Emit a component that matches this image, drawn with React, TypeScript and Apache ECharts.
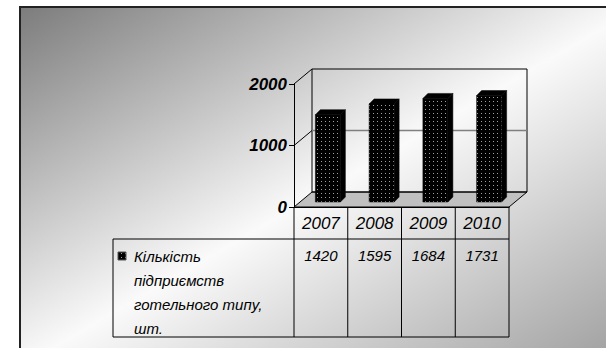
import React, { useEffect, useRef } from 'react';
import * as echarts from 'echarts';

// ---- data ----
const YEARS = ['2007', '2008', '2009', '2010'];
const COUNTS = [1420, 1595, 1684, 1731];
const Y_MIN = 0;
const Y_MAX = 2000;
const Y_STEP = 1000;
const SERIES_LABEL_LINES = ['Кількість', 'підприємств', 'готельного типу,', 'шт.'];

// ---- layout constants ----
const FONT = '"Liberation Sans", Arial, sans-serif';
const GRID = { left: 294, top: 84, width: 215, height: 123 };
const DEPTH_X = 18;
const DEPTH_Y = -15;
const BAR_DX = 7;
const BAR_DY = -5;
const BAR_W = 25;
const BAR_D = 5;
const TABLE_LEFT = 113;
const HEADER_H = 32;
const TABLE_BOTTOM = 337;

function makeDotPattern(): any {
  const c = document.createElement('canvas');
  c.width = 4;
  c.height = 4;
  const ctx = c.getContext('2d')!;
  ctx.fillStyle = '#000';
  ctx.fillRect(0, 0, 4, 4);
  ctx.fillStyle = '#a0a0a0';
  ctx.fillRect(1, 1, 1, 1);
  return { image: c, repeat: 'repeat' };
}

export default function App() {
  const ref = useRef<HTMLDivElement>(null);
  useEffect(() => {
    if (!ref.current) return;
    const chart = echarts.init(ref.current, undefined, { renderer: 'svg' });
    const dots = makeDotPattern();

    const frameRender = (params: any, api: any) => {
      const cs = params.coordSys;
      const gx = cs.x, gy = cs.y, gw = cs.width, gh = cs.height;
      const fy = gy + gh;
      const ch: any[] = [];
      // floor
      ch.push({
        type: 'polygon',
        shape: { points: [[gx, fy], [gx + gw, fy], [gx + gw + DEPTH_X, fy + DEPTH_Y], [gx + DEPTH_X, fy + DEPTH_Y]] },
        style: { fill: '#c0c0c0', stroke: '#000', lineWidth: 1 },
      });
      // back wall
      ch.push({
        type: 'rect',
        shape: { x: gx + DEPTH_X, y: gy + DEPTH_Y, width: gw, height: gh },
        style: { fill: 'none', stroke: '#000', lineWidth: 1 },
      });
      // gridlines on side and back wall
      for (let t = Y_MIN + Y_STEP; t <= Y_MAX; t += Y_STEP) {
        const y = api.coord([0, t])[1];
        ch.push({
          type: 'line',
          shape: { x1: gx, y1: y, x2: gx + DEPTH_X, y2: y + DEPTH_Y },
          style: { stroke: '#000', lineWidth: 1 },
        });
        if (t < Y_MAX) {
          ch.push({
            type: 'line',
            shape: { x1: gx + DEPTH_X, y1: y + DEPTH_Y, x2: gx + DEPTH_X + gw, y2: y + DEPTH_Y },
            style: { stroke: '#808080', lineWidth: 1.5 },
          });
        }
      }
      // data table
      const hb = fy + HEADER_H;
      const n = YEARS.length;
      for (let k = 0; k <= n; k++) {
        const x = gx + (k * gw) / n;
        ch.push({ type: 'line', shape: { x1: x, y1: fy, x2: x, y2: TABLE_BOTTOM }, style: { stroke: '#000', lineWidth: 1 } });
      }
      ch.push({ type: 'line', shape: { x1: TABLE_LEFT, y1: hb, x2: gx + gw, y2: hb }, style: { stroke: '#000', lineWidth: 1 } });
      ch.push({ type: 'line', shape: { x1: TABLE_LEFT, y1: TABLE_BOTTOM, x2: gx + gw, y2: TABLE_BOTTOM }, style: { stroke: '#000', lineWidth: 1 } });
      ch.push({ type: 'line', shape: { x1: TABLE_LEFT, y1: hb, x2: TABLE_LEFT, y2: TABLE_BOTTOM }, style: { stroke: '#000', lineWidth: 1 } });
      // legend key
      ch.push({
        type: 'rect',
        shape: { x: TABLE_LEFT + 5, y: hb + 13, width: 8, height: 8 },
        style: { fill: dots, stroke: '#555', lineWidth: 1 },
      });
      ch.push({
        type: 'text',
        x: TABLE_LEFT + 21,
        y: hb + 5,
        style: {
          text: SERIES_LABEL_LINES.join('\n'),
          fill: '#000',
          font: 'italic 15px ' + FONT,
          lineHeight: 24,
          align: 'left',
          verticalAlign: 'top',
        },
      });
      return { type: 'group', children: ch };
    };

    const barRender = (params: any, api: any) => {
      const i = api.value(0);
      const v = api.value(1);
      const b = api.coord([i, Y_MIN]);
      const t = api.coord([i, v]);
      const cx = b[0] + BAR_DX;
      const x0 = cx - BAR_W / 2;
      const x1 = cx + BAR_W / 2;
      const yb = b[1] + BAR_DY;
      const yt = t[1] + BAR_DY;
      return {
        type: 'group',
        children: [
          {
            type: 'polygon',
            shape: { points: [[x1, yt], [x1 + BAR_D, yt - BAR_D], [x1 + BAR_D, yb - BAR_D], [x1, yb]] },
            style: { fill: '#000', stroke: '#000', lineWidth: 0.5 },
          },
          {
            type: 'polygon',
            shape: { points: [[x0, yt], [x0 + BAR_D, yt - BAR_D], [x1 + BAR_D, yt - BAR_D], [x1, yt]] },
            style: { fill: '#000', stroke: '#000', lineWidth: 0.5 },
          },
          {
            type: 'rect',
            shape: { x: x0, y: yt, width: BAR_W, height: yb - yt },
            style: { fill: dots, stroke: '#000', lineWidth: 0.5 },
          },
        ],
      };
    };

    const valueRender = (params: any, api: any) => {
      const i = api.value(0);
      const b = api.coord([i, Y_MIN]);
      return {
        type: 'text',
        x: b[0],
        y: b[1] + HEADER_H + 16,
        style: {
          text: String(COUNTS[params.dataIndex]),
          fill: '#000',
          font: 'italic 15px ' + FONT,
          align: 'center',
          verticalAlign: 'middle',
        },
      };
    };

    chart.setOption({
      animation: false,
      graphic: [
        {
          type: 'rect',
          z: -10,
          shape: { x: 20, y: 7, width: 620, height: 360 },
          style: {
            fill: new echarts.graphic.LinearGradient(0, 0, 1, 1, [
              { offset: 0, color: '#7c7c7c' },
              { offset: 0.5, color: '#fafafa' },
              { offset: 1, color: '#9a9a9a' },
            ]),
            stroke: '#222',
            lineWidth: 2,
          },
        },
      ],
      grid: { left: GRID.left, top: GRID.top, width: GRID.width, height: GRID.height },
      xAxis: {
        type: 'category',
        data: YEARS,
        axisLine: { show: true, lineStyle: { color: '#000', width: 1 } },
        axisTick: { show: false },
        axisLabel: { color: '#000', fontSize: 17, fontStyle: 'italic', fontFamily: FONT, margin: 8 },
      },
      yAxis: {
        type: 'value',
        min: Y_MIN,
        max: Y_MAX,
        interval: Y_STEP,
        splitLine: { show: false },
        axisLine: { show: true, lineStyle: { color: '#000', width: 1 } },
        axisTick: { show: true, length: 5, lineStyle: { color: '#000' } },
        axisLabel: {
          color: '#000',
          fontSize: 17,
          fontStyle: 'italic',
          fontWeight: 'bold',
          fontFamily: FONT,
          margin: 7,
          formatter: (v: number) => String(v),
        },
      },
      series: [
        {
          type: 'custom',
          name: 'frame',
          renderItem: frameRender,
          data: [[0, 0]],
          encode: { x: 0, y: 1 },
          z: 1,
          silent: true,
        },
        {
          type: 'custom',
          name: SERIES_LABEL_LINES.join(' '),
          renderItem: barRender,
          data: COUNTS.map((v, i) => [i, v]),
          encode: { x: 0, y: 1 },
          z: 2,
        },
        {
          type: 'custom',
          name: 'table',
          renderItem: valueRender,
          data: COUNTS.map((v, i) => [i, v]),
          encode: { x: 0, y: 1 },
          z: 3,
          clip: false,
        },
      ],
    });
    return () => chart.dispose();
  }, []);
  return <div ref={ref} style={{ position: 'absolute', left: 0, top: 0, width: 606, height: 348 }} />;
}
